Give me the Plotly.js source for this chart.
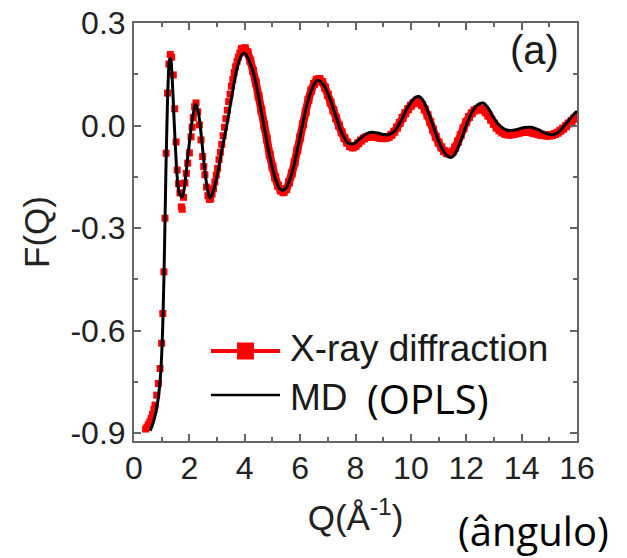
<!DOCTYPE html>
<html>
<head>
<meta charset="utf-8">
<script src="https://cdn.plot.ly/plotly-3.0.1.min.js"></script>
<style>
  html, body { margin: 0; padding: 0; background: #ffffff; }
  #chart { width: 627px; height: 558px; }
</style>
</head>
<body>
<div id="chart"></div>
<script>
// X-ray diffraction, low-Q part (discrete points)
const xrayQLow = [0.42,0.47,0.52,0.57,0.62,0.67,0.72,0.76,0.82,0.88,0.94,1.00,1.04,1.08,1.12,1.16,1.21,1.26,1.31,1.36,1.42,1.47,1.52,1.56,1.61,1.66,1.71,1.74,1.79,1.84,1.89,1.94,2.00,2.06,2.10,2.14,2.19,2.24,2.30,2.36,2.42,2.48,2.52,2.56,2.62,2.67,2.72,2.77,2.82,2.87,2.92,2.97,3.02,3.07,3.12,3.17,3.22,3.27,3.32,3.37,3.42,3.47,3.52,3.57,3.62,3.67,3.72,3.77,3.82,3.87];
const xrayFLow = [-0.888,-0.882,-0.875,-0.867,-0.857,-0.845,-0.830,-0.818,-0.789,-0.755,-0.711,-0.637,-0.550,-0.428,-0.271,-0.081,0.095,0.180,0.208,0.200,0.148,0.049,-0.048,-0.130,-0.170,-0.197,-0.238,-0.245,-0.210,-0.168,-0.140,-0.110,-0.080,-0.033,-0.005,0.023,0.055,0.066,0.040,0.002,-0.042,-0.091,-0.120,-0.144,-0.180,-0.205,-0.216,-0.215,-0.200,-0.185,-0.165,-0.145,-0.125,-0.100,-0.078,-0.055,-0.030,-0.005,0.020,0.045,0.070,0.092,0.115,0.135,0.155,0.172,0.188,0.200,0.212,0.220];
// X-ray diffraction, high-Q part (dense points forming a band)
const xrayQHigh = [3.9,4.0,4.1,4.2,4.3,4.4,4.5,4.6,4.7,4.8,4.9,5.0,5.1,5.2,5.3,5.4,5.5,5.6,5.7,5.8,5.9,6.0,6.1,6.2,6.3,6.4,6.5,6.6,6.7,6.8,6.9,7.0,7.1,7.2,7.3,7.4,7.5,7.6,7.7,7.8,7.9,8.0,8.1,8.2,8.3,8.4,8.5,8.6,8.7,8.8,8.9,9.0,9.1,9.2,9.3,9.4,9.5,9.6,9.7,9.8,9.9,10.0,10.1,10.2,10.3,10.4,10.5,10.6,10.7,10.8,10.9,11.0,11.1,11.2,11.3,11.4,11.5,11.6,11.7,11.8,11.9,12.0,12.1,12.2,12.3,12.4,12.5,12.6,12.7,12.8,12.9,13.0,13.1,13.2,13.3,13.4,13.5,13.6,13.7,13.8,13.9,14.0,14.1,14.2,14.3,14.4,14.5,14.6,14.7,14.8,14.9,15.0,15.1,15.2,15.3,15.4,15.5,15.6,15.7,15.8,15.9,16.0];
const xrayFHigh = [0.224,0.226,0.214,0.190,0.160,0.125,0.086,0.045,0.002,-0.040,-0.085,-0.120,-0.152,-0.176,-0.190,-0.195,-0.186,-0.166,-0.140,-0.108,-0.072,-0.035,0.003,0.040,0.075,0.102,0.122,0.134,0.136,0.127,0.111,0.090,0.067,0.045,0.022,0.000,-0.020,-0.037,-0.050,-0.060,-0.064,-0.060,-0.052,-0.044,-0.038,-0.034,-0.032,-0.031,-0.032,-0.034,-0.036,-0.037,-0.036,-0.033,-0.027,-0.018,-0.006,0.008,0.022,0.036,0.048,0.058,0.065,0.069,0.068,0.060,0.047,0.030,0.010,-0.012,-0.033,-0.050,-0.064,-0.075,-0.081,-0.082,-0.076,-0.064,-0.047,-0.028,-0.008,0.010,0.025,0.036,0.044,0.048,0.049,0.046,0.039,0.029,0.017,0.005,-0.006,-0.014,-0.020,-0.024,-0.026,-0.026,-0.025,-0.023,-0.021,-0.019,-0.018,-0.018,-0.019,-0.021,-0.023,-0.025,-0.027,-0.028,-0.029,-0.029,-0.028,-0.025,-0.021,-0.015,-0.009,-0.002,0.006,0.013,0.020,0.026];
// MD (OPLS)
const mdQ = [0.58,0.65,0.72,0.80,0.88,0.95,1.00,1.04,1.08,1.12,1.16,1.20,1.24,1.28,1.32,1.36,1.41,1.46,1.51,1.56,1.63,1.74,1.83,1.93,2.03,2.13,2.23,2.33,2.43,2.53,2.63,2.74,2.87,3.02,3.20,3.35,3.50,3.70,3.85,3.97,4.10,4.30,4.50,4.70,4.90,5.10,5.25,5.37,5.50,5.70,5.90,6.10,6.30,6.50,6.64,6.80,6.90,7.10,7.30,7.50,7.70,7.86,8.00,8.20,8.40,8.58,8.80,9.00,9.18,9.40,9.60,9.80,10.00,10.15,10.29,10.45,10.60,10.80,11.00,11.20,11.35,11.47,11.60,11.80,12.00,12.20,12.40,12.61,12.80,13.00,13.20,13.45,13.70,13.90,14.10,14.36,14.60,14.85,15.14,15.35,15.55,15.75,15.92,16.00];
const mdF = [-0.893,-0.880,-0.862,-0.835,-0.795,-0.740,-0.670,-0.580,-0.450,-0.280,-0.100,0.040,0.140,0.190,0.196,0.165,0.085,-0.005,-0.085,-0.150,-0.195,-0.210,-0.175,-0.100,-0.030,0.030,0.063,0.035,-0.030,-0.110,-0.175,-0.212,-0.190,-0.140,-0.060,0.000,0.070,0.160,0.200,0.212,0.200,0.158,0.084,-0.003,-0.089,-0.154,-0.183,-0.190,-0.182,-0.140,-0.071,0.007,0.077,0.120,0.133,0.123,0.112,0.073,0.025,-0.020,-0.049,-0.054,-0.050,-0.036,-0.024,-0.020,-0.022,-0.026,-0.027,-0.017,0.007,0.040,0.068,0.082,0.085,0.072,0.045,0.000,-0.045,-0.078,-0.091,-0.093,-0.083,-0.045,0.000,0.038,0.060,0.066,0.050,0.022,0.000,-0.013,-0.014,-0.010,-0.006,-0.005,-0.012,-0.022,-0.027,-0.018,0.000,0.020,0.036,0.042];

const xTickVals = [0,2,4,6,8,10,12,14,16];
const xTickText = ['0','2','4','6','8','10','12','14','16'];
const yTickVals = [-0.9,-0.6,-0.3,0.0,0.3];
const yTickText = ['-0.9','-0.6','-0.3','0.0','0.3'];
const legendLabels = ['X-ray diffraction','MD'];

const RED = '#ff0000';
const FONT = 'Liberation Sans, Arial, sans-serif';
const AX = '#666666';

const traces = [
  {x: xrayQLow, y: xrayFLow, type: 'scatter', mode: 'markers', name: legendLabels[0],
   marker: {symbol: 'square', size: 7, color: RED}, showlegend: false},
  {x: xrayQHigh, y: xrayFHigh, type: 'scatter', mode: 'lines+markers', name: legendLabels[0],
   line: {color: RED, width: 8, shape: 'spline'},
   marker: {symbol: 'square', size: 8, color: RED}, showlegend: false},
  {x: mdQ, y: mdF, type: 'scatter', mode: 'lines', name: legendLabels[1],
   line: {color: '#000000', width: 3, shape: 'spline', smoothing: 1}, showlegend: false}
];

// plot area in pixels: left 134, right 577, top 23, bottom 441
const L = 134, R = 577, T = 23, B = 441;
const px = v => (v - L) / (R - L);
const py = v => (B - v) / (B - T);

const axisCommon = {
  showline: true, linecolor: AX, linewidth: 2, mirror: 'allticks',
  ticks: 'inside', ticklen: 7, tickwidth: 2, tickcolor: AX,
  showgrid: false, zeroline: false,
  tickfont: {family: FONT, size: 32, color: '#222222'},
  minor: {ticks: 'inside', ticklen: 4, tickwidth: 2, tickcolor: AX, showgrid: false}
};

const layout = {
  width: 627, height: 558,
  margin: {l: L, r: 627 - R, t: T, b: 558 - B, pad: 0},
  paper_bgcolor: '#ffffff', plot_bgcolor: '#ffffff',
  showlegend: false,
  xaxis: Object.assign({}, axisCommon, {
    range: [0, 16], tickmode: 'array', tickvals: xTickVals, ticktext: xTickText,
    minor: Object.assign({}, axisCommon.minor, {dtick: 1, tick0: 0}),
    ticklabelstandoff: -2,
    title: {text: 'Q(Å<sup>-1</sup>)', font: {family: FONT, size: 35, color: '#222222'}, standoff: 20}
  }),
  yaxis: Object.assign({}, axisCommon, {
    range: [-0.923, 0.3], tickmode: 'array', tickvals: yTickVals, ticktext: yTickText,
    minor: Object.assign({}, axisCommon.minor, {dtick: 0.15, tick0: 0}),
    ticklabelstandoff: 0,
    title: {text: 'F(Q)', font: {family: FONT, size: 35, color: '#222222'}, standoff: 10}
  }),
  shapes: [
    {type: 'line', xref: 'paper', yref: 'paper', x0: px(211), x1: px(280), y0: py(351), y1: py(351),
     line: {color: RED, width: 4}},
    {type: 'rect', xref: 'paper', yref: 'paper', x0: px(237), x1: px(254), y0: py(359.5), y1: py(342.5),
     fillcolor: RED, line: {width: 0}},
    {type: 'line', xref: 'paper', yref: 'paper', x0: px(211), x1: px(280), y0: py(395), y1: py(395),
     line: {color: '#000000', width: 2.5}}
  ],
  annotations: [
    {text: legendLabels[0], xref: 'paper', yref: 'paper', x: px(288), y: py(348), xanchor: 'left', yanchor: 'middle',
     showarrow: false, font: {family: FONT, size: 37, color: '#1a1a1a'}},
    {text: legendLabels[1], xref: 'paper', yref: 'paper', x: px(288), y: py(397), xanchor: 'left', yanchor: 'middle',
     showarrow: false, font: {family: FONT, size: 37, color: '#1a1a1a'}},
    {text: '(OPLS)', xref: 'paper', yref: 'paper', x: px(365), y: py(398), xanchor: 'left', yanchor: 'middle',
     showarrow: false, font: {family: 'Open Sans, sans-serif', size: 40, color: '#000000'}},
    {text: '(a)', xref: 'paper', yref: 'paper', x: px(534), y: py(50), xanchor: 'center', yanchor: 'middle',
     showarrow: false, font: {family: FONT, size: 40, color: '#1a1a1a'}},
    {text: '(ângulo)', xref: 'paper', yref: 'paper', x: px(533), y: py(530), xanchor: 'center', yanchor: 'middle',
     showarrow: false, font: {family: 'Open Sans, sans-serif', size: 40, color: '#000000'}}
  ]
};

Plotly.newPlot('chart', traces, layout, {displayModeBar: false, staticPlot: true});
</script>
</body>
</html>
